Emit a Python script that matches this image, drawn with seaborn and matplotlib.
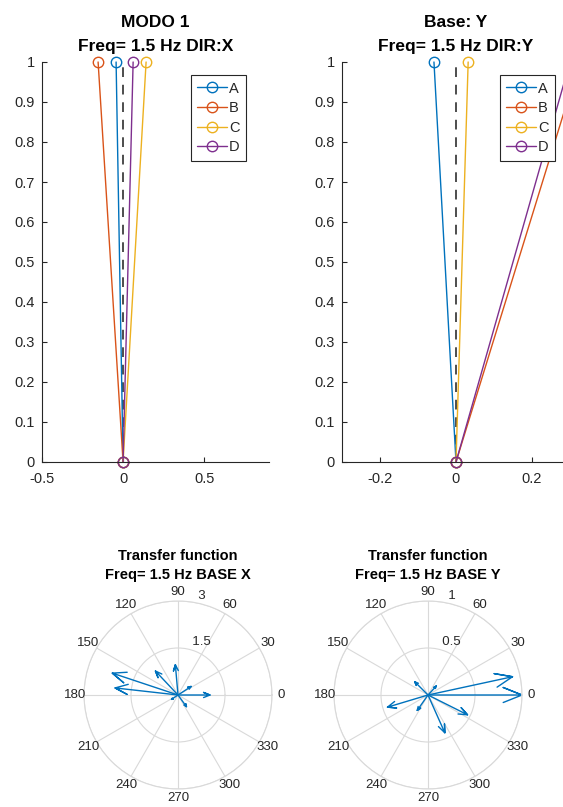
import numpy as np
import pandas as pd
import matplotlib
matplotlib.use("Agg")
import matplotlib.pyplot as plt
from matplotlib.ticker import FuncFormatter
import seaborn as sns

# ---- mode shapes: horizontal displacement of each point at unit height ----
labels = ["A", "B", "C", "D"]
colors = ["#0072BD", "#D95319", "#EDB120", "#7E2F8E"]
heights = [0.0, 1.0]
disp_x = [-0.043, -0.154, 0.142, 0.062]     # MODO 1, DIR:X
disp_y = [-0.058, 0.325, 0.032, 0.300]      # Base: Y, DIR:Y

# ---- transfer function phasors (magnitude, phase in degrees) ----
tf_x_mag = [2.21, 2.02, 1.05, 0.97, 1.02, 0.50, 0.46, 0.25]
tf_x_ang = [161.6, 173.6, 133.3, 95.0, 0.0, 33.0, 306.0, 214.0]
tf_y_mag = [1.00, 0.92, 0.47, 0.44, 0.45, 0.20, 0.13, 0.20]
tf_y_ang = [0.0, 12.2, 333.4, 294.0, 196.7, 135.0, 47.0, 235.0]

x_rticks = [1.5, 3.0]
y_rticks = [0.5, 1.0]
theta_ticks = list(range(0, 360, 30))

sns.set_style("ticks")
plt.rcParams["font.family"] = ["Liberation Sans", "DejaVu Sans"]
axis_col = "#262626"
grid_col = "#d9d9d9"
arrow_col = "#0072BD"

fig = plt.figure(figsize=(5.63, 8.07), dpi=100)
W, H = 563.0, 807.0


def mode_panel(rect, disp, xlim, xticks, title):
    ax = fig.add_axes(rect)
    for name, col, dx in zip(labels, colors, disp):
        df = pd.DataFrame({"x": [0.0, dx], "y": heights})
        sns.lineplot(data=df, x="x", y="y", sort=False, estimator=None,
                     color=col, lw=1.0, marker="o", markersize=7.5,
                     markerfacecolor="none", markeredgecolor=col,
                     markeredgewidth=1.0, label=name, clip_on=False, ax=ax)
    ax.plot([0, 0], heights, color="0.3", lw=1.4, ls=(0, (5, 4)), zorder=1)
    ax.set_xlim(*xlim)
    ax.set_ylim(0, 1)
    ax.set_xticks(xticks)
    ax.set_yticks(np.round(np.arange(0, 1.01, 0.1), 1))
    fmt = FuncFormatter(lambda v, p: "%g" % round(v, 2))
    ax.xaxis.set_major_formatter(fmt)
    ax.yaxis.set_major_formatter(fmt)
    ax.set_xlabel("")
    ax.set_ylabel("")
    sns.despine(ax=ax)
    for s in ("left", "bottom"):
        ax.spines[s].set_color(axis_col)
        ax.spines[s].set_linewidth(0.8)
    ax.tick_params(direction="in", length=3.5, width=0.8, colors=axis_col,
                   labelsize=10.5, pad=5)
    ax.tick_params(axis="x", pad=7)
    ax.set_title(title, fontsize=12.5, fontweight="bold", pad=8,
                 linespacing=1.7, color="black")
    return ax


ax1 = mode_panel([42 / W, 1 - 462 / H, 227 / W, 400 / H], disp_x,
                 (-0.5, 0.9), [-0.5, 0, 0.5], "MODO 1\nFreq= 1.5 Hz DIR:X")
ax2 = mode_panel([342 / W, 1 - 462 / H, 228 / W, 400 / H], disp_y,
                 (-0.3, 0.3), [-0.2, 0, 0.2], "Base: Y\nFreq= 1.5 Hz DIR:Y")

for ax, right in ((ax1, 246), (ax2, 555)):
    leg = ax.legend(loc="upper right", bbox_to_anchor=(right / W, 1 - 75 / H),
                    bbox_transform=fig.transFigure, borderaxespad=0,
                    fontsize=10.5, handlelength=2.0, handletextpad=0.15,
                    labelspacing=0.38, borderpad=0.45, fancybox=False,
                    framealpha=1)
    leg.get_frame().set_edgecolor(axis_col)
    leg.get_frame().set_linewidth(0.8)


def compass_panel(rect, mags, angs, rticks, title):
    ax = fig.add_axes(rect, projection="polar")
    rmax = rticks[-1]
    head = np.array([0, 1, 0.8 + 0.08j, 1, 0.8 - 0.08j])
    for m, a in zip(mags, angs):
        pts = head * m * np.exp(1j * np.deg2rad(a))
        sns.lineplot(x=np.angle(pts), y=np.abs(pts), sort=False,
                     estimator=None, color=arrow_col, lw=1.0, ax=ax)
    ax.set_rlim(0, rmax)
    ax.set_rticks(rticks)
    ax.set_yticklabels([])
    ax.set_thetagrids(theta_ticks, labels=[""] * len(theta_ticks))
    ax.grid(True, color=grid_col, lw=0.8)
    ax.spines["polar"].set_color(grid_col)
    ax.spines["polar"].set_linewidth(0.8)
    ax.set_xlabel("")
    ax.set_ylabel("")
    for t in theta_ticks:
        ax.text(np.deg2rad(t), 1.1 * rmax, str(t), ha="center", va="center",
                fontsize=9.5, color=axis_col, clip_on=False)
    for r in rticks:
        ax.text(np.deg2rad(82), r, "  %g" % r, ha="left", va="bottom",
                fontsize=9.5, color=axis_col, clip_on=False)
    ax.set_title(title, fontsize=10.5, fontweight="bold", y=1.0, pad=16,
                 linespacing=1.4, color="black")
    return ax


compass_panel([84 / W, 1 - 789 / H, 188 / W, 188 / H], tf_x_mag, tf_x_ang,
              x_rticks, "Transfer function\nFreq= 1.5 Hz BASE X")
compass_panel([334 / W, 1 - 789 / H, 188 / W, 188 / H], tf_y_mag, tf_y_ang,
              y_rticks, "Transfer function\nFreq= 1.5 Hz BASE Y")

fig.savefig("out.png", dpi=100)
